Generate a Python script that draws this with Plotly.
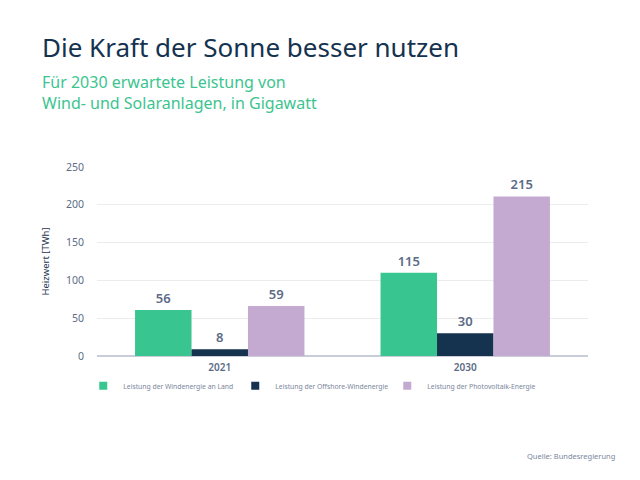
import plotly.graph_objects as go

years = ["2021", "2030"]
series_names = [
    "Leistung der Windenergie an Land",
    "Leistung der Offshore-Windenergie",
    "Leistung der Photovoltaik-Energie",
]
bar_values = [
    [61, 110],
    [9, 30],
    [66, 211],
]
bar_labels = [
    ["56", "115"],
    ["8", "30"],
    ["59", "215"],
]
colors = ["#38c590", "#15324f", "#c4a9d1"]
y_ticks = [0, 50, 100, 150, 200, 250]

FONT = "Noto Sans"
LABEL_COL = "#5c6b86"

fig = go.Figure()
for name, vals, labs, col in zip(series_names, bar_values, bar_labels, colors):
    fig.add_trace(go.Bar(
        x=years, y=vals, name=name, marker=dict(color=col, line=dict(width=0)),
        text=labs, textposition="outside", cliponaxis=False,
        textfont=dict(size=13, color=LABEL_COL, family=FONT, weight=600),
        hoverinfo="skip", showlegend=False,
    ))
for name, col in zip(series_names, colors):
    fig.add_trace(go.Scatter(
        x=[None], y=[None], mode="markers", name=name,
        marker=dict(symbol="square", size=8, color=col), showlegend=True,
    ))

fig.update_layout(
    width=640, height=480,
    margin=dict(l=97, r=52, t=167, b=124),
    paper_bgcolor="white", plot_bgcolor="white",
    barmode="group", bargap=0.31, bargroupgap=0,
    font=dict(family=FONT, color=LABEL_COL),
    showlegend=True,
    legend=dict(
        orientation="h", x=-0.028, xanchor="left", y=-0.158, yanchor="middle",
        font=dict(size=6.8, color="#7a869c", family=FONT),
        entrywidth=107, entrywidthmode="pixels",
        itemwidth=30, traceorder="normal",
    ),
    xaxis=dict(
        showgrid=False, showline=False, ticks="",
        tickfont=dict(size=10, color=LABEL_COL, family=FONT, weight=600),
        range=[-0.5, 1.5], ticklabelstandoff=4,
    ),
    yaxis=dict(
        range=[0, 250], tickvals=y_ticks, showgrid=True, gridcolor="#ececec",
        gridwidth=1, zeroline=True, zerolinecolor="#c9cdda", zerolinewidth=2,
        tickfont=dict(size=10.5, color=LABEL_COL, family=FONT),
        ticks="", ticklabelstandoff=12,
        title=dict(text="Heizwert [TWh]", font=dict(size=9.5, color="#1e3552", family=FONT), standoff=14),
    ),
)

H = 189.0
def py(pix):
    return (356 - pix) / H

fig.add_annotation(
    text="Die Kraft der Sonne besser nutzen", xref="paper", yref="paper",
    x=-0.117, xanchor="left", y=py(47), yanchor="middle",
    showarrow=False, font=dict(size=26, color="#15324f", family=FONT),
)
fig.add_annotation(
    text="Für 2030 erwartete Leistung von<br>Wind- und Solaranlagen, in Gigawatt",
    xref="paper", yref="paper", x=-0.117, xanchor="left", align="left",
    y=py(92), yanchor="middle", showarrow=False,
    font=dict(size=16, color="#3cc48f", family=FONT),
)
fig.add_annotation(
    text="Quelle: Bundesregierung", xref="paper", yref="paper",
    x=1.06, xanchor="right", y=py(456), yanchor="middle", showarrow=False,
    font=dict(size=7.5, color="#7a869c", family=FONT),
)

fig.write_html("out.html")
